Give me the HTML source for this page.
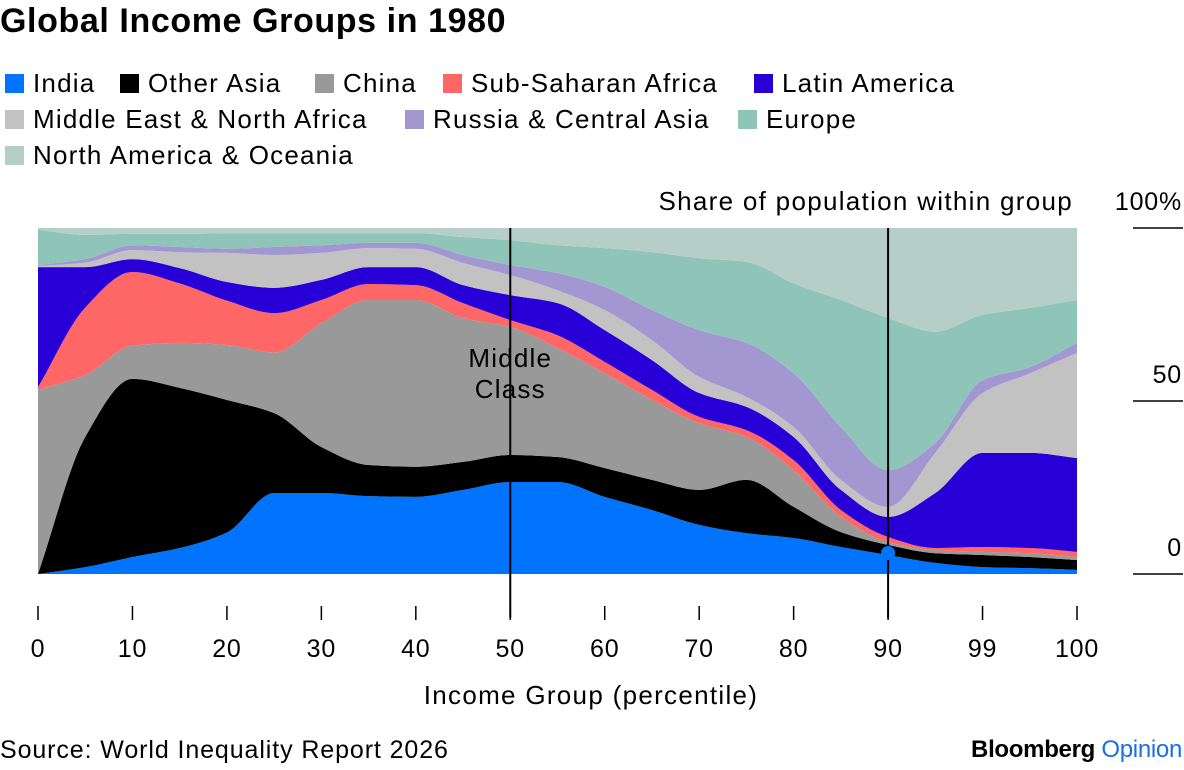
<!DOCTYPE html>
<html><head><meta charset="utf-8">
<style>
body{margin:0;background:#fff;font-family:"Liberation Sans",sans-serif;}
#wrap{position:relative;width:1184px;height:770px;overflow:hidden;}
.t{position:absolute;white-space:nowrap;color:#000;}
.leg{position:absolute;font-size:26px;letter-spacing:1.2px;display:flex;align-items:center;}
.sw{width:19px;height:19px;margin-right:9px;display:inline-block;}
</style></head><body>
<div id="wrap">
<div class="t" style="left:0;top:2px;font-size:34px;font-weight:bold;letter-spacing:0.6px">Global Income Groups in 1980</div>
<div id="legend"></div>
<svg id="chart" width="1184" height="770" style="position:absolute;left:0;top:0"></svg>
<div class="t" style="left:0;top:736px;font-size:25px;letter-spacing:0.9px">Source: World Inequality Report 2026</div>
<div class="t" style="right:2px;top:736px;font-size:24px;font-weight:bold;letter-spacing:-0.3px">Bloomberg <span style="color:#1a6fe0;font-weight:normal">Opinion</span></div>
</div>
<script>
const categories=["0","10","20","30","40","50","60","70","80","90","99","100"];
const samplePos=[0,0.5,1,1.5,2,2.5,3,3.5,4,4.5,5,5.5,6,6.5,7,7.5,8,8.5,9,9.5,10,10.5,11];
const seriesNames=["India","Other Asia","China","Sub-Saharan Africa","Latin America","Middle East & North Africa","Russia & Central Asia","Europe","North America & Oceania"];
const seriesColors=["#0073ff","#000000","#999999","#ff6666","#2800d7","#c2c2c2","#a397d2","#8fc5b9","#b5cec8"];
const india=[0,2,4.9,7.5,12,23.4,23.4,22.5,22.3,24.3,26.6,26.6,22.3,18.5,14.2,11.8,10.4,7.8,5.5,3.2,2,1.7,1.2];
const otherAsia=[0,37.6,51.5,46.3,38.3,23.1,13.3,9,8.7,8.1,7.8,7.2,8.3,8.7,10.1,15.4,9,4.3,2.9,2.8,3.5,3.2,2.8];
const china=[53.2,17.9,9.6,13,15.9,17.5,35.8,47.7,48.2,41.6,37,31.5,27.4,23.1,19.3,12.4,10.6,4.4,0.8,0.9,0.9,1.1,0.9];
const ssa=[0.8,19.5,21.3,17.2,12.8,11.4,6.7,4.6,4.3,4.3,2,3.7,3.3,2.9,1.8,2,2.9,2,1.5,0.6,1.4,1.5,1.5];
const latam=[34.7,11.7,3.7,4.4,5.4,7.3,5.8,4.9,5.2,5.2,7.2,9.3,9.2,8.6,6.9,6.7,6.7,5.8,5.8,15.9,27.2,27.5,27.1];
const mena=[0.3,1.3,2.6,4.6,8.4,9.5,7.8,5.5,5.3,6.4,5.8,3.7,5.8,5.8,4.7,2.9,2.9,2.9,2.9,11.6,17.3,23,30.4];
const russia=[0.3,1,1.4,1.5,1.2,2.3,2.2,1.5,1.7,2.3,2.9,5,6.7,8.7,13.5,15.6,15.5,15.3,10.6,2.9,3.7,1.8,2.9];
const europe=[10.2,7,3.3,3.8,4.5,4,3.5,2.8,2.8,5.2,7.2,8,11.2,16.7,20.8,23.4,26,36.7,44,32.1,18.9,17.1,12.4];
const northAm=[0.5,2,1.7,1.7,1.5,1.5,1.5,1.5,1.5,2.6,3.5,5,5.8,7,8.7,9.8,16,20.8,26,30,25.1,23.1,20.8];
const yTicks=[0,50,100];
const yTickLabels=["0","50","100%"];
const markerPos=9;

const series=[india,otherAsia,china,ssa,latam,mena,russia,europe,northAm];
const X0=38,X1=1077,Y0=574,Y1=228;
const xS=i=>X0+(X1-X0)*i/(categories.length-1);
const yS=v=>Y0-(Y0-Y1)*v/100;
const NS="http://www.w3.org/2000/svg";
const svg=document.getElementById('chart');
const FF='Liberation Sans, sans-serif';
function mk(tag,attrs){const e=document.createElementNS(NS,tag);for(const k in attrs)e.setAttribute(k,attrs[k]);return e;}
function monoPath(pts){
  const n=pts.length;const dx=[],m=[],t=[];
  for(let i=0;i<n-1;i++){dx[i]=pts[i+1][0]-pts[i][0];m[i]=(pts[i+1][1]-pts[i][1])/dx[i];}
  t[0]=m[0];t[n-1]=m[n-2];
  for(let i=1;i<n-1;i++){t[i]=(m[i-1]*m[i]<=0)?0:(3*(dx[i-1]+dx[i]))/((2*dx[i]+dx[i-1])/m[i-1]+(dx[i]+2*dx[i-1])/m[i]);}
  let d="";
  for(let i=0;i<n-1;i++){const h=dx[i]/3;
    d+=` C${pts[i][0]+h},${pts[i][1]+t[i]*h} ${pts[i+1][0]-h},${pts[i+1][1]-t[i+1]*h} ${pts[i+1][0]},${pts[i+1][1]}`;}
  return d;
}
let cum=samplePos.map(()=>0);
series.forEach((s,k)=>{
  const lo=cum.slice();const hi=cum.map((c,i)=>c+s[i]);
  const top=samplePos.map((p,i)=>[xS(p),yS(k===series.length-1?100:hi[i])]);
  const bot=samplePos.map((p,i)=>[xS(p),yS(lo[i])]).reverse();
  const d=`M${top[0][0]},${top[0][1]}`+monoPath(top)+` L${bot[0][0]},${bot[0][1]}`+monoPath(bot)+"Z";
  const p=mk('path',{d:d,fill:seriesColors[k]});
  
  
  svg.appendChild(p);
  cum=hi;
});
[5,9].forEach(i=>{
  const l=mk('line',{x1:xS(i),x2:xS(i),y1:Y1,y2:618,stroke:'#000','stroke-width':2});
  
  
  svg.appendChild(l);
});
const mi=samplePos.indexOf(markerPos);
const dot=mk('circle',{cx:xS(markerPos),cy:yS(india[mi])-2,r:7,fill:'#0073ff'});


svg.appendChild(dot);
["Middle","Class"].forEach((w,j)=>{
  const t=mk('text',{x:xS(5),y:367+j*31,'text-anchor':'middle','font-size':26,'letter-spacing':1.2,'font-family':FF,fill:'#000'});
  t.textContent=w;
  
  
  svg.appendChild(t);
});
categories.forEach((c,i)=>{
  const tk=mk('line',{x1:xS(i),x2:xS(i),y1:606,y2:620,stroke:'#000','stroke-width':1.5});
  
  
  svg.appendChild(tk);
  const t=mk('text',{x:xS(i),y:657,'text-anchor':'middle','font-size':25,'letter-spacing':0.8,'font-family':FF,fill:'#000'});
  t.textContent=c;
  
  
  svg.appendChild(t);
});
const xt=mk('text',{x:591,y:704,'text-anchor':'middle','font-size':26,'letter-spacing':1.3,'font-family':FF,fill:'#000'});
xt.textContent="Income Group (percentile)";


svg.appendChild(xt);
yTicks.forEach((v,i)=>{
  const l=mk('line',{x1:1133,x2:1183,y1:yS(v),y2:yS(v),stroke:'#000','stroke-width':1.5});
  
  
  svg.appendChild(l);
  const t=mk('text',{x:1182,y:yS(v)-18,'text-anchor':'end','font-size':25,'letter-spacing':0.8,'font-family':FF,fill:'#000'});
  t.textContent=yTickLabels[i];
  
  
  svg.appendChild(t);
});
const yt=mk('text',{x:1073,y:210,'text-anchor':'end','font-size':26,'letter-spacing':1.3,'font-family':FF,fill:'#000'});
yt.textContent="Share of population within group";


svg.appendChild(yt);
const legPos=[[5,68],[120,68],[315,68],[443,68],[754,68],[5,104],[405,104],[738,104],[5,140]];
const leg=document.getElementById('legend');
seriesNames.forEach((n,k)=>{
  const d=document.createElement('div');
  d.className='leg';d.style.left=legPos[k][0]+'px';d.style.top=legPos[k][1]+'px';
  d.innerHTML=`<span class="sw" style="background:${seriesColors[k]}"></span>${n.replace('&','&amp;')}`;
  
  
  leg.appendChild(d);
});
</script>
</body></html>
